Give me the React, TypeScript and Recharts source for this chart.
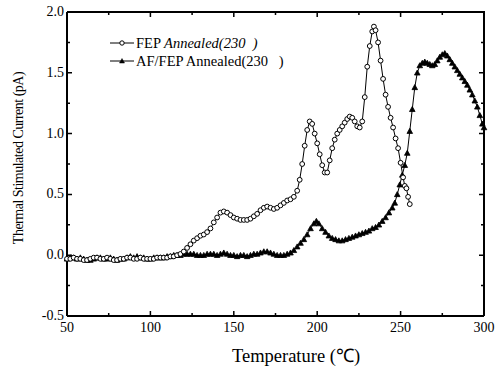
import React from 'react';
import { LineChart, Line, XAxis, YAxis, Customized } from 'recharts';

const fepTemps = [50,52,54,56,58,60,62,64,66,68,70,72,74,76,78,80,82,84,86,88,90,92,94,96,98,100,102,104,106,108,110,112,114,116,118,120,122,124,126,128,130,132,134,136,138,140,142,144,146,148,150,152,154,156,158,160,162,164,166,168,170,172,174,176,178,180,182,184,186,188,189.5,191,192.5,194,195.5,197,198.5,200,201.5,203,204.5,206,207.5,209,210.5,212,213.5,215,216.5,218,219.5,221,222.5,224,225.5,227,228.5,230,231.5,233,234,235,236.5,238,239.5,241,242.5,244,245.5,247,248.5,250,251.5,252.5,253.5,254.5,255.5];
const fepValues = [-0.03,-0.03,-0.02,-0.03,-0.03,-0.04,-0.04,-0.03,-0.02,-0.02,-0.03,-0.03,-0.02,-0.03,-0.04,-0.04,-0.03,-0.03,-0.02,-0.02,-0.03,-0.03,-0.02,-0.03,-0.03,-0.03,-0.03,-0.02,-0.02,-0.02,-0.02,-0.01,-0.01,0.0,0.01,0.03,0.06,0.09,0.12,0.14,0.16,0.17,0.19,0.22,0.27,0.31,0.35,0.36,0.35,0.33,0.31,0.30,0.29,0.29,0.29,0.30,0.32,0.34,0.37,0.39,0.40,0.39,0.38,0.39,0.41,0.43,0.45,0.46,0.48,0.53,0.62,0.75,0.90,1.03,1.10,1.08,1.00,0.92,0.83,0.74,0.68,0.68,0.78,0.88,0.95,1.00,1.03,1.06,1.09,1.12,1.14,1.13,1.10,1.06,1.05,1.10,1.30,1.55,1.72,1.84,1.88,1.85,1.75,1.60,1.45,1.32,1.22,1.13,1.05,0.96,0.88,0.76,0.64,0.57,0.55,0.48,0.42];

const afTemps = [50,52,54,56,58,60,62,64,66,68,70,72,74,76,78,80,82,84,86,88,90,92,94,96,98,100,102,104,106,108,110,112,114,116,118,120,122,124,126,128,130,132,134,136,138,140,142,144,146,148,150,152,154,156,158,160,162,164,166,168,170,172,174,176,178,180,182,184,186,188,190,192,194,196,198,199.5,201,203,205,207,209,211,213,215,217,219,221,223,225,227,229,231,233,235,237,239,241,243,245,246.5,248,249.5,251,252.5,254,255.5,257,258.5,260,261.5,263,264.5,266,267.5,269,270.5,272,273.5,275,276.5,278,279.5,281,282.5,284,285.5,287,288.5,290,291.5,293,294.5,296,297.5,299,300];
const afValues = [-0.03,-0.02,-0.02,-0.03,-0.02,-0.03,-0.04,-0.04,-0.03,-0.02,-0.02,-0.03,-0.03,-0.02,-0.03,-0.04,-0.03,-0.03,-0.02,-0.01,-0.02,-0.01,-0.02,-0.02,-0.03,-0.03,-0.02,-0.02,-0.02,-0.02,-0.01,-0.01,0.0,0.0,0.0,0.01,0.01,0.01,0.01,0.0,0.0,0.0,0.01,0.01,0.01,0.0,0.01,0.02,0.01,0.0,0.0,-0.01,0.0,0.0,-0.01,0.0,0.01,0.01,0.02,0.03,0.03,0.02,0.01,0.0,0.0,0.0,0.01,0.02,0.04,0.07,0.10,0.13,0.17,0.22,0.26,0.28,0.26,0.22,0.19,0.16,0.14,0.13,0.12,0.12,0.13,0.14,0.15,0.16,0.17,0.18,0.19,0.20,0.22,0.23,0.25,0.28,0.31,0.35,0.39,0.43,0.50,0.58,0.66,0.74,0.84,1.02,1.20,1.38,1.50,1.56,1.58,1.59,1.58,1.57,1.56,1.57,1.60,1.63,1.65,1.66,1.64,1.61,1.58,1.55,1.52,1.49,1.46,1.43,1.40,1.36,1.32,1.27,1.22,1.15,1.08,1.05];

const xTicks = [50,75,100,125,150,175,200,225,250,275,300];
const yTicks = [-0.5,-0.25,0,0.25,0.5,0.75,1.0,1.25,1.5,1.75,2.0];
const X_MIN = 50, X_MAX = 300, Y_MIN = -0.5, Y_MAX = 2.0;
const seriesNames = ['FEP ', 'Annealed(230\u00a0\u00a0)', 'AF/FEP Annealed(230\u00a0\u00a0\u00a0)'];
const xTitle = 'Temperature (\u2103)';
const yTitle = 'Thermal Stimulated Current (pA)';

const fepData = fepTemps.map((t, i) => ({ t, v: fepValues[i] }));
const afData = afTemps.map((t, i) => ({ t, v: afValues[i] }));

const FONT = '"Liberation Serif", "Times New Roman", serif';

const W = 504, H = 370;
const M_TOP = 12, M_RIGHT = 20, Y_AXIS_W = 67, X_AXIS_H = 54;
const P_LEFT = Y_AXIS_W, P_RIGHT = W - M_RIGHT, P_TOP = M_TOP, P_BOTTOM = H - X_AXIS_H;
const sx = (t: number) => P_LEFT + ((t - X_MIN) / (X_MAX - X_MIN)) * (P_RIGHT - P_LEFT);
const sy = (v: number) => P_BOTTOM - ((v - Y_MIN) / (Y_MAX - Y_MIN)) * (P_BOTTOM - P_TOP);

const isMajorX = (v: number) => v % 50 === 0;
const isMajorY = (v: number) => Math.abs(v * 2 - Math.round(v * 2)) < 1e-6;
const tickLen = (major: boolean) => (major ? 5 : 3);

const BottomTick = (p: any) => {
  const { x, y, payload } = p;
  if (!isMajorX(payload.value)) return <g />;
  return (
    <text x={x} y={y + 16} textAnchor="middle" fontFamily={FONT} fontSize={14} fill="#000">
      {String(payload.value)}
    </text>
  );
};
const LeftTick = (p: any) => {
  const { x, y, payload } = p;
  if (!isMajorY(payload.value)) return <g />;
  return (
    <text x={x - 3} y={y + 4} textAnchor="end" fontFamily={FONT} fontSize={14} fill="#000">
      {Number(payload.value).toFixed(1)}
    </text>
  );
};

const CircleDot = (p: any) => {
  const { cx, cy, index } = p;
  return <circle key={'c' + index} cx={cx} cy={cy} r={2.4} fill="#fff" stroke="#000" strokeWidth={1} />;
};
const TriDot = (p: any) => {
  const { cx, cy, index } = p;
  const s = 2.8;
  return (
    <path key={'t' + index} d={`M${cx},${cy - s} L${cx + s},${cy + s * 0.8} L${cx - s},${cy + s * 0.8} Z`} fill="#000" stroke="#000" strokeWidth={0.8} />
  );
};

const Extras = () => (
  <g>
    <path
      d={`M${P_LEFT},${P_TOP} L${P_RIGHT},${P_TOP} L${P_RIGHT},${P_BOTTOM}`}
      stroke="#000"
      strokeWidth={2}
      fill="none"
    />
    {xTicks.map((t) => (
      <path
        key={'xt' + t}
        d={`M${sx(t)},${P_BOTTOM} L${sx(t)},${P_BOTTOM - tickLen(isMajorX(t))} M${sx(t)},${P_TOP} L${sx(t)},${P_TOP + tickLen(isMajorX(t))}`}
        stroke="#000"
        strokeWidth={1.5}
        fill="none"
      />
    ))}
    {yTicks.map((v) => (
      <path
        key={'yt' + v}
        d={`M${P_LEFT},${sy(v)} L${P_LEFT + tickLen(isMajorY(v))},${sy(v)} M${P_RIGHT},${sy(v)} L${P_RIGHT - tickLen(isMajorY(v))},${sy(v)}`}
        stroke="#000"
        strokeWidth={1.5}
        fill="none"
      />
    ))}
    <line x1={110} x2={134} y1={43} y2={43} stroke="#000" strokeWidth={1} />
    <circle cx={122} cy={43} r={2.2} fill="#fff" stroke="#000" strokeWidth={1} />
    <text x={136} y={48} fontFamily={FONT} fontSize={14.5} fill="#000">
      {seriesNames[0]}
      <tspan fontStyle="italic">{seriesNames[1]}</tspan>
    </text>
    <line x1={110} x2={134} y1={61} y2={61} stroke="#000" strokeWidth={1} />
    <path d="M122,58.5 L124.5,63 L119.5,63 Z" fill="#000" stroke="#000" strokeWidth={0.5} />
    <text x={136} y={66} fontFamily={FONT} fontSize={14.5} fill="#000">{seriesNames[2]}</text>
    <text
      transform="translate(23,158) rotate(-90)"
      textAnchor="middle"
      fontFamily={FONT}
      fontSize={14}
      letterSpacing={-0.5}
      fill="#000"
    >
      {yTitle}
    </text>
    <text x={296} y={362} textAnchor="middle" fontFamily={FONT} fontSize={18.5} fill="#000">
      {xTitle}
    </text>
  </g>
);

export default function App() {
  return (
    <div style={{ position: 'absolute', left: 0, top: 0 }}>
      <LineChart width={W} height={H} margin={{ top: M_TOP, right: M_RIGHT, left: 0, bottom: 0 }}>
        <XAxis
          dataKey="t"
          type="number"
          domain={[X_MIN, X_MAX]}
          ticks={xTicks}
          height={X_AXIS_H}
          tickSize={0}
          tickMargin={0}
          tickLine={false}
          tick={<BottomTick />}
          axisLine={{ stroke: '#000', strokeWidth: 2 }}
          interval={0}
        />
        <YAxis
          type="number"
          domain={[Y_MIN, Y_MAX]}
          ticks={yTicks}
          width={Y_AXIS_W}
          tickSize={0}
          tickMargin={0}
          tickLine={false}
          tick={<LeftTick />}
          axisLine={{ stroke: '#000', strokeWidth: 2 }}
          interval={0}
        />
        <Line data={afData} dataKey="v" stroke="#000" strokeWidth={1} dot={TriDot} isAnimationActive={false} />
        <Line data={fepData} dataKey="v" stroke="#000" strokeWidth={1} dot={CircleDot} isAnimationActive={false} />
        <Customized component={<Extras />} />
      </LineChart>
    </div>
  );
}
